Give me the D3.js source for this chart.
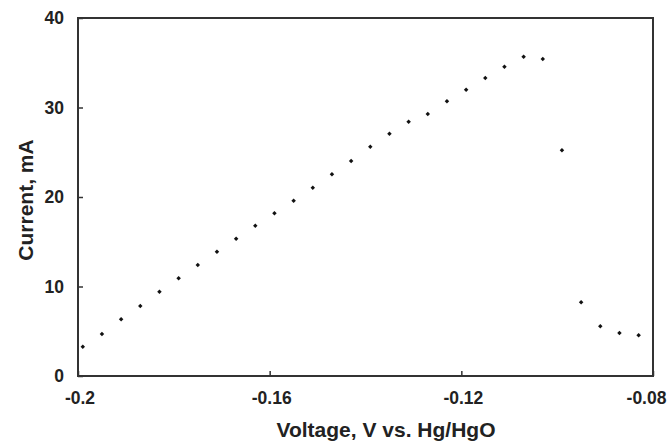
<!DOCTYPE html>
<html>
<head>
<meta charset="utf-8">
<script src="https://cdn.jsdelivr.net/npm/d3@7"></script>
<style>
  html, body { margin: 0; padding: 0; background: #fff; }
  svg { display: block; }
  text { font-family: "Liberation Sans", Arial, sans-serif; font-weight: bold; fill: #222; }
</style>
</head>
<body>
<svg id="chart" width="669" height="445"></svg>
<script>
// Data
const voltage = [-0.199, -0.195, -0.191, -0.187, -0.183, -0.179, -0.175, -0.171, -0.167, -0.163,
                 -0.159, -0.155, -0.151, -0.147, -0.143, -0.139, -0.135, -0.131, -0.127, -0.123,
                 -0.119, -0.115, -0.111, -0.107, -0.103, -0.099, -0.095, -0.091, -0.087, -0.083];
const current = [3.27, 4.69, 6.34, 7.82, 9.42, 10.92, 12.40, 13.89, 15.34, 16.79,
                 18.18, 19.59, 21.04, 22.54, 24.02, 25.62, 27.07, 28.41, 29.27, 30.69,
                 31.99, 33.30, 34.56, 35.68, 35.42, 25.22, 8.23, 5.55, 4.80, 4.55];
const xTicks = [-0.2, -0.16, -0.12, -0.08];
const xTickLabels = ["-0.2", "-0.16", "-0.12", "-0.08"];
const yTicks = [0, 10, 20, 30, 40];
const xTitle = "Voltage, V vs. Hg/HgO";
const yTitle = "Current, mA";

const svg = d3.select("#chart");
const mLeft = 78, mRight = 653, mTop = 18, mBottom = 376;

const x = d3.scaleLinear().domain([-0.2, -0.08]).range([mLeft, mRight]);
const y = d3.scaleLinear().domain([0, 40]).range([mBottom, mTop]);

const frameColor = "#333";

// Frame
svg.append("rect")
  .attr("x", mLeft).attr("y", mTop)
  .attr("width", mRight - mLeft).attr("height", mBottom - mTop)
  .attr("fill", "none").attr("stroke", frameColor).attr("stroke-width", 2);

// Y axis (inward ticks)
const yAxis = d3.axisLeft(y).tickValues(yTicks).tickSize(-5).tickPadding(14).tickFormat(d3.format("d"));
const gy = svg.append("g").attr("transform", `translate(${mLeft},0)`).call(yAxis);
gy.select(".domain").remove();
gy.selectAll(".tick line").attr("stroke", frameColor).attr("stroke-width", 1.5);
gy.selectAll(".tick text").style("font-size", "17.5px").attr("fill", "#222");

// X axis (inward ticks)
const xAxis = d3.axisBottom(x).tickValues(xTicks).tickSize(-5).tickPadding(16)
  .tickFormat((d, i) => xTickLabels[i]);
const gx = svg.append("g").attr("transform", `translate(0,${mBottom})`).call(xAxis);
gx.select(".domain").remove();
gx.selectAll(".tick line").attr("stroke", frameColor).attr("stroke-width", 1.5);
gx.selectAll(".tick text").style("font-size", "17.5px").attr("fill", "#222")
  .attr("x", (d, i) => i === xTicks.length - 1 ? -7 : 1.5);

// Points
const sym = d3.symbol().type(d3.symbolSquare).size(10);
svg.append("g").selectAll("path")
  .data(voltage.map((v, i) => ({ v, c: current[i] })))
  .join("path")
  .attr("d", sym)
  .attr("transform", d => `translate(${x(d.v)},${y(d.c)}) rotate(45)`)
  .attr("fill", "#111");

// Axis titles
svg.append("text")
  .attr("x", 386).attr("y", 437)
  .attr("text-anchor", "middle")
  .style("font-size", "21px")
  .text(xTitle);

svg.append("text")
  .attr("transform", `translate(33,${(mTop + mBottom) / 2 + 3}) rotate(-90)`)
  .attr("text-anchor", "middle")
  .style("font-size", "21px")
  .text(yTitle);
</script>
</body>
</html>
